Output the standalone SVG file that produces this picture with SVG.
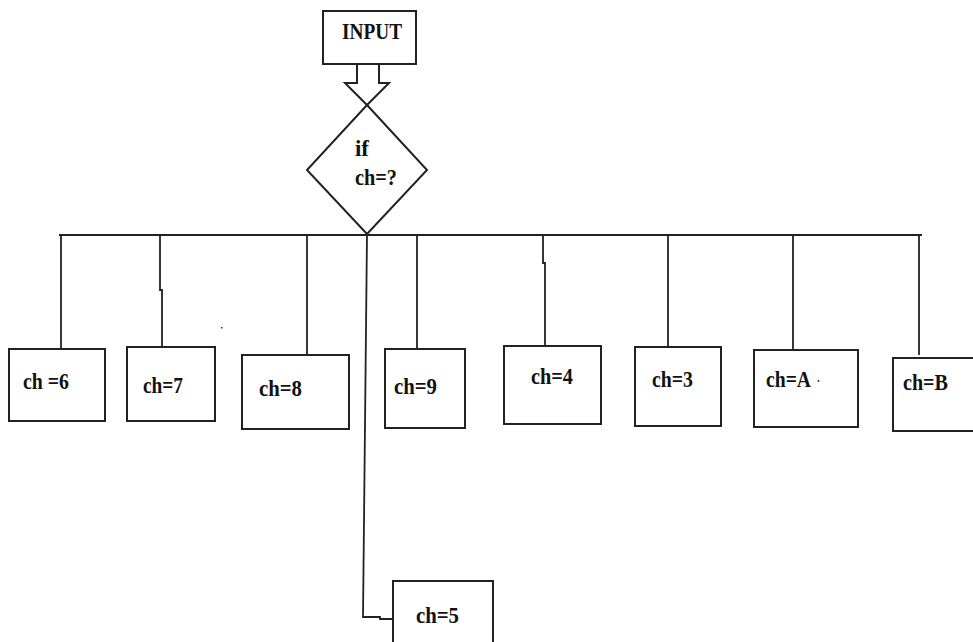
<svg xmlns="http://www.w3.org/2000/svg" width="973" height="642" viewBox="0 0 973 642">
<style>
.box{fill:#fff;stroke:#222;stroke-width:2}
.ln{fill:none;stroke:#222;stroke-width:1.8}
.t{font-family:"Liberation Serif","Times New Roman",serif;font-weight:bold;font-size:23px;fill:#111}
</style>
<rect width="973" height="642" fill="#fff"/>
<g id="connectors">
<line class="ln" x1="59" y1="235" x2="922" y2="235"/>
<line class="ln" x1="61" y1="235" x2="61" y2="350"/>
<polyline class="ln" points="160,235 160,290 162,290 162,347"/>
<line class="ln" x1="307" y1="235" x2="307" y2="356"/>
<polyline class="ln" points="367,234 363,617 380,617 380,619 394,619"/>
<line class="ln" x1="417" y1="235" x2="417" y2="349"/>
<polyline class="ln" points="543,235 543,263 545,263 545,347"/>
<line class="ln" x1="668" y1="235" x2="668" y2="351"/>
<line class="ln" x1="793" y1="235" x2="793" y2="350"/>
<line class="ln" x1="919" y1="235" x2="919" y2="355"/>
<polygon class="box" points="357,63 379,63 379,83 389,83 367,105 345,83 357,83"/>
</g>
<g id="input">
<rect class="box" x="323" y="11" width="93" height="53"/>
<text class="t" x="342" y="39" textLength="60" lengthAdjust="spacingAndGlyphs">INPUT</text>
</g>
<g id="decision">
<polygon class="box" points="367,105 427,170 367,234 307,170"/>
<text class="t" x="355" y="156" textLength="14" lengthAdjust="spacingAndGlyphs">if</text>
<text class="t" x="355" y="185" textLength="42" lengthAdjust="spacingAndGlyphs">ch=?</text>
</g>
<g id="ch6">
<rect class="box" x="9" y="349" width="96" height="72"/>
<text class="t" x="23" y="389" textLength="46" lengthAdjust="spacingAndGlyphs">ch =6</text>
</g>
<g id="ch7">
<rect class="box" x="127" y="347" width="88" height="74"/>
<text class="t" x="143" y="393" textLength="40" lengthAdjust="spacingAndGlyphs">ch=7</text>
</g>
<g id="ch8">
<rect class="box" x="242" y="355" width="107" height="74"/>
<text class="t" x="259" y="396" textLength="43" lengthAdjust="spacingAndGlyphs">ch=8</text>
</g>
<g id="ch9">
<rect class="box" x="385" y="349" width="80" height="79"/>
<text class="t" x="394" y="394" textLength="43" lengthAdjust="spacingAndGlyphs">ch=9</text>
</g>
<g id="ch4">
<rect class="box" x="504" y="346" width="97" height="78"/>
<text class="t" x="531" y="384" textLength="42" lengthAdjust="spacingAndGlyphs">ch=4</text>
</g>
<g id="ch3">
<rect class="box" x="635" y="347" width="86" height="79"/>
<text class="t" x="652" y="387" textLength="41" lengthAdjust="spacingAndGlyphs">ch=3</text>
</g>
<g id="chA">
<rect class="box" x="754" y="350" width="104" height="77"/>
<text class="t" x="766" y="387" textLength="45" lengthAdjust="spacingAndGlyphs">ch=A</text>
<circle cx="818.5" cy="381" r="1" fill="#333"/>
</g>
<g id="chB">
<rect class="box" x="893" y="358" width="90" height="73"/>
<text class="t" x="903" y="390" textLength="45" lengthAdjust="spacingAndGlyphs">ch=B</text>
</g>
<g id="ch5">
<rect class="box" x="393" y="581" width="100" height="70"/>
<text class="t" x="416" y="623" textLength="43" lengthAdjust="spacingAndGlyphs">ch=5</text>
</g>
<rect x="221" y="327" width="1.5" height="1.5" fill="#333"/>
</svg>
